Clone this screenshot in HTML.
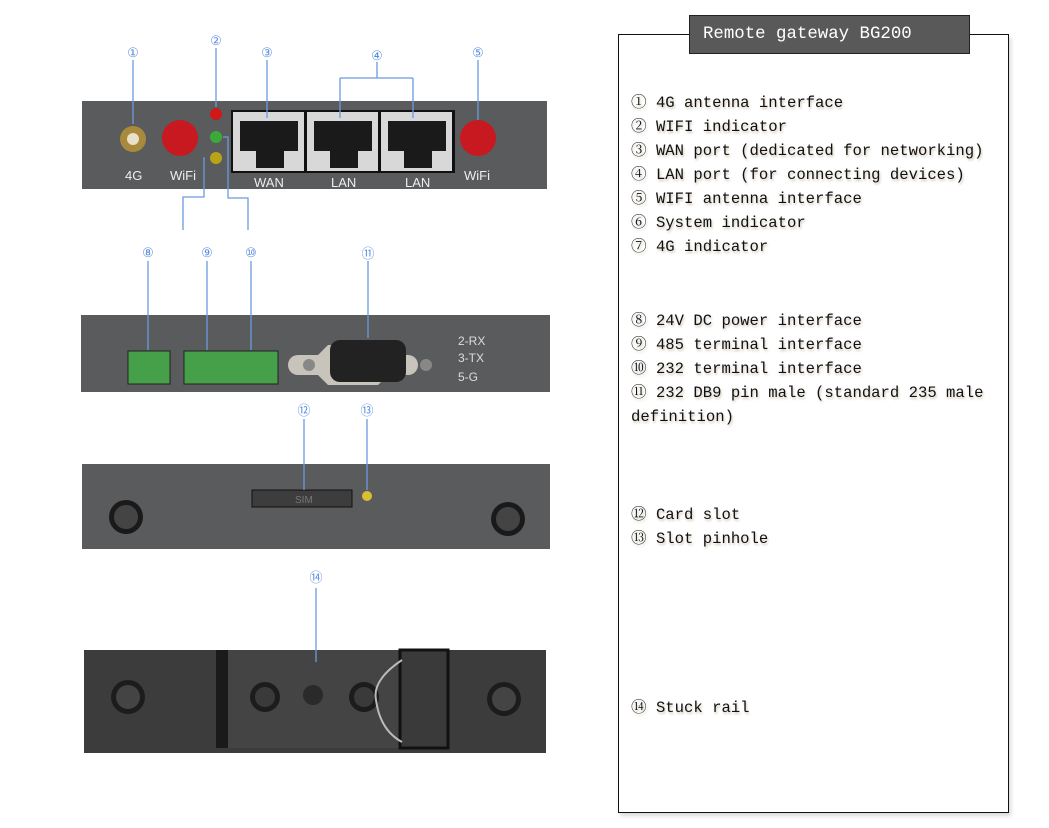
<!DOCTYPE html>
<html><head><meta charset="utf-8"><style>
html,body{margin:0;padding:0;background:#fff;}
body{width:1049px;height:828px;position:relative;overflow:hidden;}
.box{position:absolute;left:618px;top:34px;width:389px;height:777px;border:1.5px solid #111;box-shadow:2px 3px 4px rgba(0,0,0,.15);}
.title{position:absolute;left:689px;top:15px;width:279px;height:37px;background:#595959;border:1.5px solid #222;color:#fff;font:17.4px "Liberation Mono","Noto Serif CJK SC",monospace;line-height:37px;text-indent:13px;}
.t{position:absolute;left:631px;font:15.6px "Liberation Mono","Noto Serif CJK SC",monospace;color:#111;white-space:pre;text-shadow:1px 2px 2px rgba(120,90,40,.35);line-height:24px;}
svg{position:absolute;left:0;top:0;}
</style></head><body>
<svg width="600" height="828" viewBox="0 0 600 828" font-family="Liberation Sans, sans-serif">
<!-- Panel 1 -->
<rect x="82" y="101" width="465" height="88" fill="#5a5b5d"/>
<circle cx="133" cy="139" r="13" fill="#a98a3c"/><circle cx="133" cy="139" r="6" fill="#e8e0c8"/>
<circle cx="180" cy="138" r="18" fill="#c81820"/>
<circle cx="478" cy="138" r="18" fill="#c81820"/>
<text x="125" y="180" fill="#eee" font-size="13">4G</text>
<text x="170" y="180" fill="#eee" font-size="13">WiFi</text>
<text x="464" y="180" fill="#eee" font-size="13">WiFi</text>
<circle cx="216" cy="114" r="6" fill="#d01818"/>
<circle cx="216" cy="137" r="6" fill="#3caa38"/>
<circle cx="216" cy="158" r="6" fill="#b8a418"/>
<rect x="231" y="110" width="224" height="63" fill="#111"/>
<g fill="#d8d8d8">
<rect x="233" y="112" width="71" height="59"/><rect x="307" y="112" width="71" height="59"/><rect x="381" y="112" width="71" height="59"/></g>
<g fill="#1a1a1a">
<rect x="240" y="121" width="58" height="30"/><rect x="314" y="121" width="58" height="30"/><rect x="388" y="121" width="58" height="30"/>
<rect x="256" y="148" width="28" height="20"/><rect x="330" y="148" width="28" height="20"/><rect x="404" y="148" width="28" height="20"/></g>
<text x="254" y="187" fill="#eee" font-size="13">WAN</text>
<text x="331" y="187" fill="#eee" font-size="13">LAN</text>
<text x="405" y="187" fill="#eee" font-size="13">LAN</text>
<!-- Panel 2 -->
<rect x="81" y="315" width="469" height="77" fill="#5a5b5d"/>
<rect x="128" y="351" width="42" height="33" fill="#46a04a" stroke="#222"/>
<rect x="184" y="351" width="94" height="33" fill="#46a04a" stroke="#222"/>
<path d="M298 355 h20 l10 -10 h50 l10 10 h20 a10 10 0 0 1 0 20 h-20 l-10 10 h-50 l-10 -10 h-20 a10 10 0 0 1 0 -20z" fill="#c8c4bc"/>
<circle cx="309" cy="365" r="6" fill="#888"/><circle cx="426" cy="365" r="6" fill="#888"/>
<rect x="330" y="340" width="76" height="42" rx="10" fill="#222"/>
<text x="458" y="345" fill="#ddd" font-size="12">2-RX</text>
<text x="458" y="362" fill="#ddd" font-size="12">3-TX</text>
<text x="458" y="381" fill="#ddd" font-size="12">5-G</text>
<!-- Panel 3 -->
<rect x="82" y="464" width="468" height="85" fill="#5a5b5d"/>
<rect x="252" y="490" width="100" height="17" fill="#3d3d3d" stroke="#111"/>
<text x="295" y="503" fill="#777" font-size="10">SIM</text>
<circle cx="367" cy="496" r="5" fill="#d8c030"/>
<circle cx="126" cy="517" r="17" fill="#1a1a1a"/><circle cx="126" cy="517" r="12" fill="#444"/>
<circle cx="508" cy="519" r="17" fill="#1a1a1a"/><circle cx="508" cy="519" r="12" fill="#444"/>
<!-- Panel 4 -->
<rect x="84" y="650" width="462" height="103" fill="#3c3c3d"/>
<rect x="216" y="650" width="190" height="98" fill="#444"/>
<rect x="216" y="650" width="12" height="98" fill="#1a1a1a"/>
<rect x="400" y="650" width="48" height="98" fill="#3a3a3a" stroke="#111" stroke-width="3"/>
<circle cx="313" cy="695" r="10" fill="#2a2a2a"/>
<circle cx="128" cy="697" r="17" fill="#1c1c1c"/><circle cx="128" cy="697" r="12" fill="#444"/>
<circle cx="265" cy="697" r="15" fill="#1c1c1c"/><circle cx="265" cy="697" r="10" fill="#3a3a3a"/>
<circle cx="364" cy="697" r="15" fill="#1c1c1c"/><circle cx="364" cy="697" r="10" fill="#3a3a3a"/>
<circle cx="504" cy="699" r="17" fill="#1c1c1c"/><circle cx="504" cy="699" r="12" fill="#444"/>
<path d="M402 660 q-30 20 -26 40 q4 30 26 42" fill="none" stroke="#bbb" stroke-width="2"/>
<!-- leader lines -->
<g stroke="#6c9ae0" stroke-width="1.3" fill="none">
<path d="M133 60 V124"/><path d="M216 48 V107"/><path d="M267 60 V118"/>
<path d="M377 62 V78 M340 78 H413 M340 78 V118 M413 78 V118"/>
<path d="M478 60 V120"/>
<path d="M205 158 H204 V197 H183 V230 M223 137 H228 V198 H248 V230"/>
<path d="M148 261 V350 M207 261 V350 M251 261 V350 M368 261 V338"/>
<path d="M304 419 V490 M367 419 V490"/>
<path d="M316 588 V662"/>
</g>
<g fill="#5b8ee0" font-size="13" text-anchor="middle">
<text x="133" y="57">①</text><text x="216" y="45">②</text><text x="267" y="57">③</text>
<text x="377" y="60">④</text><text x="478" y="57">⑤</text>
<text x="148" y="257">⑧</text><text x="207" y="257">⑨</text><text x="251" y="257">⑩</text><text x="368" y="258">⑪</text>
<text x="304" y="415">⑫</text><text x="367" y="415">⑬</text><text x="316" y="582">⑭</text>
</g>
</svg>
<div class="box"></div>
<div class="title">Remote gateway BG200</div>
<div class="t" style="top:91px">① 4G antenna interface</div>
<div class="t" style="top:115px">② WIFI indicator</div>
<div class="t" style="top:139px">③ WAN port (dedicated for networking)</div>
<div class="t" style="top:163px">④ LAN port (for connecting devices)</div>
<div class="t" style="top:187px">⑤ WIFI antenna interface</div>
<div class="t" style="top:211px">⑥ System indicator</div>
<div class="t" style="top:235px">⑦ 4G indicator</div>
<div class="t" style="top:309px">⑧ 24V DC power interface</div>
<div class="t" style="top:333px">⑨ 485 terminal interface</div>
<div class="t" style="top:357px">⑩ 232 terminal interface</div>
<div class="t" style="top:381px">⑪ 232 DB9 pin male (standard 235 male</div>
<div class="t" style="top:405px">definition)</div>
<div class="t" style="top:503px">⑫ Card slot</div>
<div class="t" style="top:527px">⑬ Slot pinhole</div>
<div class="t" style="top:696px">⑭ Stuck rail</div>
</body></html>
